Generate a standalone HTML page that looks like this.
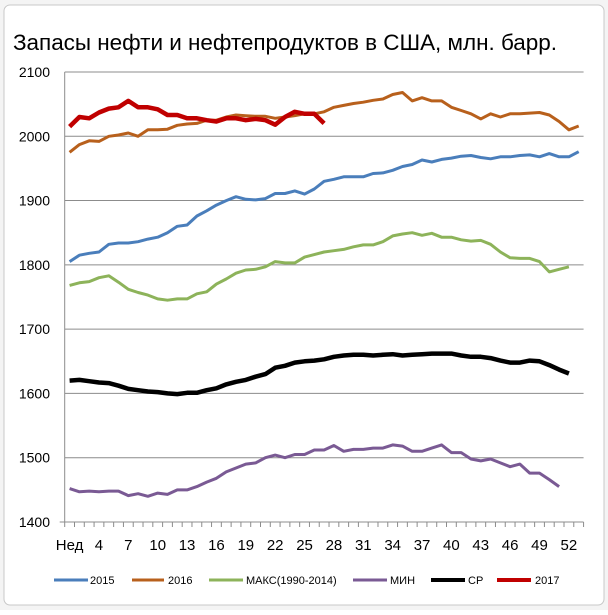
<!DOCTYPE html>
<html><head><meta charset="utf-8"><style>
body{margin:0;background:#fff;width:608px;height:610px;overflow:hidden;font-family:"Liberation Sans",sans-serif}
</style></head><body>
<svg id="s" width="608" height="610" xmlns="http://www.w3.org/2000/svg" font-family="Liberation Sans, sans-serif">
<rect x="0" y="0" width="608" height="610" fill="#f4f4f4"/>
<rect x="4" y="5" width="600" height="600" rx="6" fill="#fff" stroke="#c8c8c8"/>
<text x="13" y="50" font-size="22.5" fill="#000" textLength="544">Запасы нефти и нефтепродуктов в США, млн. барр.</text>
<g id="grid"></g>
<g id="lines" fill="none" stroke-linejoin="round"></g>
<g font-size="11" fill="#000">
<line x1="54" y1="580" x2="88" y2="580" stroke="#4a7ebb" stroke-width="3"/><text x="90" y="584">2015</text>
<line x1="132" y1="580" x2="164" y2="580" stroke="#b8601c" stroke-width="3"/><text x="168" y="584">2016</text>
<line x1="209" y1="580" x2="243" y2="580" stroke="#8db35a" stroke-width="3"/><text x="246" y="584">МАКС(1990-2014)</text>
<line x1="353" y1="580" x2="387" y2="580" stroke="#7a5a94" stroke-width="3"/><text x="390" y="584">МИН</text>
<line x1="431" y1="580" x2="465" y2="580" stroke="#000" stroke-width="4"/><text x="468" y="584">СР</text>
<line x1="497" y1="580" x2="531" y2="580" stroke="#c00000" stroke-width="4"/><text x="535" y="584">2017</text>
</g>
</svg>
<script>
const L=64.7,N=53,W=9.79,R=L+N*W;
const y=v=>522-(v-1400)*0.6429;
const xs=i=>L+(i+0.5)*W;
let g='';
for(let k=0;k<8;k++){const v=1400+k*100,yy=y(v);
 if(k>0)g+=`<line x1="${L}" y1="${yy}" x2="${R}" y2="${yy}" stroke="#8c8c8c" stroke-width="1"/>`;
 g+=`<text x="50" y="${yy+5}" font-size="14" text-anchor="end">${v}</text>`;}
g+=`<line x1="${L}" y1="72" x2="${L}" y2="522" stroke="#8c8c8c"/><line x1="${L-5}" y1="522" x2="${R}" y2="522" stroke="#8c8c8c"/>`;
for(let i=0;i<=N;i++){const xx=L+i*W;g+=`<line x1="${xx}" y1="522" x2="${xx}" y2="527" stroke="#8c8c8c"/>`;}
for(let i=0;i<52;i+=3){g+=`<text x="${xs(i)}" y="550" font-size="15" text-anchor="middle">${i==0?'Нед':i+1}</text>`;}
document.getElementById('grid').innerHTML=g;
const D=[
["#4a7ebb",3,[1805,1815,1818,1820,1832,1834,1834,1836,1840,1843,1850,1860,1862,1876,1884,1893,1900,1906,1902,1901,1903,1911,1911,1915,1910,1918,1930,1933,1937,1937,1937,1942,1943,1947,1953,1956,1963,1960,1964,1966,1969,1970,1967,1965,1968,1968,1970,1971,1968,1973,1968,1968,1976]],
["#b8601c",3,[1975,1987,1993,1992,2000,2002,2005,2000,2010,2010,2011,2017,2019,2020,2025,2025,2030,2033,2032,2031,2031,2028,2030,2032,2035,2035,2038,2045,2048,2051,2053,2056,2058,2065,2068,2055,2060,2055,2055,2045,2040,2035,2027,2035,2030,2035,2035,2036,2037,2033,2023,2010,2016]],
["#8db35a",3,[1768,1772,1774,1780,1783,1773,1762,1757,1753,1747,1745,1747,1747,1755,1758,1770,1778,1787,1792,1793,1797,1805,1803,1803,1812,1816,1820,1822,1824,1828,1831,1831,1836,1845,1848,1850,1846,1849,1843,1843,1839,1837,1838,1832,1820,1811,1810,1810,1805,1789,1793,1797]],
["#7a5a94",3,[1452,1447,1448,1447,1448,1448,1441,1444,1440,1445,1443,1450,1450,1455,1462,1468,1478,1484,1490,1492,1500,1504,1500,1505,1505,1512,1512,1519,1510,1513,1513,1515,1515,1520,1518,1510,1510,1515,1520,1508,1508,1498,1495,1498,1492,1486,1490,1476,1476,1466,1455]],
["#000",4.5,[1620,1621,1619,1617,1616,1612,1607,1605,1603,1602,1600,1599,1601,1601,1605,1608,1614,1618,1621,1626,1630,1640,1643,1648,1650,1651,1653,1657,1659,1660,1660,1659,1660,1661,1659,1660,1661,1662,1662,1662,1659,1657,1657,1655,1651,1648,1648,1651,1650,1644,1637,1631]],
["#c00000",4.5,[2015,2030,2028,2037,2043,2045,2055,2045,2045,2042,2033,2033,2028,2028,2025,2023,2028,2028,2025,2027,2025,2018,2030,2038,2035,2035,2020]]];
let h='';
for(const [c,w,a] of D){h+=`<polyline stroke="${c}" stroke-width="${w}" points="${a.map((v,i)=>xs(i).toFixed(1)+','+y(v).toFixed(1)).join(' ')}"/>`;}
document.getElementById('lines').innerHTML=h;
</script>
</body></html>
